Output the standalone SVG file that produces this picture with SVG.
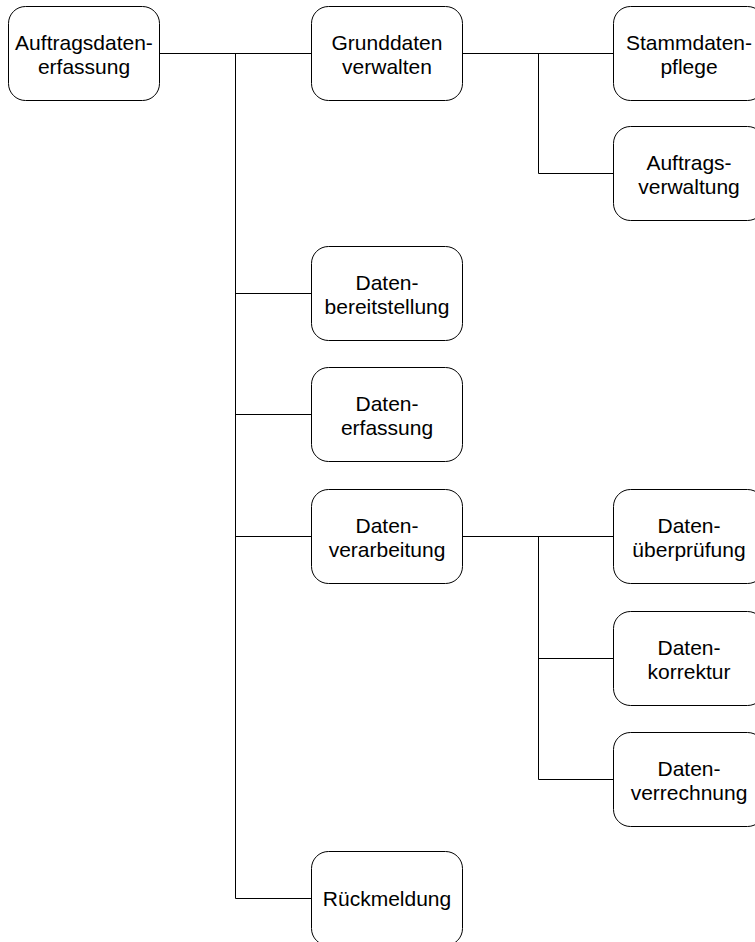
<svg xmlns="http://www.w3.org/2000/svg" width="755" height="942" viewBox="0 0 755 942">
  <style>
    .box { fill: #ffffff; stroke: #000000; stroke-width: 1; }
    .lbl { font-family: "Liberation Sans", Arial, sans-serif; font-size: 21px; fill: #000000; text-anchor: middle; }
    .wire { fill: none; stroke: #000000; stroke-width: 1; }
  </style>
  <rect width="755" height="942" fill="#ffffff"/>

  <!-- connectors -->
  <g id="connectors">
    <path class="wire" d="M160 53.5 H311"/>
    <path class="wire" d="M235.5 53.5 V898.5"/>
    <path class="wire" d="M235.5 293.5 H311"/>
    <path class="wire" d="M235.5 414.5 H311"/>
    <path class="wire" d="M235.5 536.5 H311"/>
    <path class="wire" d="M235.5 898.5 H311"/>
    <path class="wire" d="M463 53.5 H613"/>
    <path class="wire" d="M538.5 53.5 V173.5 H613"/>
    <path class="wire" d="M463 536.5 H613"/>
    <path class="wire" d="M538.5 536.5 V779.5 H613"/>
    <path class="wire" d="M538.5 658.5 H613"/>
  </g>

  <g id="auftragsdatenerfassung">
    <rect class="box" x="8.5" y="6.5" width="151" height="94" rx="17"/>
    <text class="lbl" x="84" y="49.5">Auftragsdaten-</text>
    <text class="lbl" x="84" y="73.5">erfassung</text>
  </g>

  <g id="grunddaten-verwalten">
    <rect class="box" x="311.5" y="6.5" width="151" height="94" rx="17"/>
    <text class="lbl" x="387" y="49.5">Grunddaten</text>
    <text class="lbl" x="387" y="73.5">verwalten</text>
  </g>

  <g id="stammdatenpflege">
    <rect class="box" x="613.5" y="6.5" width="151" height="94" rx="17"/>
    <text class="lbl" x="689" y="49.5">Stammdaten-</text>
    <text class="lbl" x="689" y="73.5">pflege</text>
  </g>

  <g id="auftragsverwaltung">
    <rect class="box" x="613.5" y="126.5" width="151" height="94" rx="17"/>
    <text class="lbl" x="689" y="169.5">Auftrags-</text>
    <text class="lbl" x="689" y="193.5">verwaltung</text>
  </g>

  <g id="datenbereitstellung">
    <rect class="box" x="311.5" y="246.5" width="151" height="94" rx="17"/>
    <text class="lbl" x="387" y="289.5">Daten-</text>
    <text class="lbl" x="387" y="313.5">bereitstellung</text>
  </g>

  <g id="datenerfassung">
    <rect class="box" x="311.5" y="367.5" width="151" height="94" rx="17"/>
    <text class="lbl" x="387" y="410.5">Daten-</text>
    <text class="lbl" x="387" y="434.5">erfassung</text>
  </g>

  <g id="datenverarbeitung">
    <rect class="box" x="311.5" y="489.5" width="151" height="94" rx="17"/>
    <text class="lbl" x="387" y="532.5">Daten-</text>
    <text class="lbl" x="387" y="556.5">verarbeitung</text>
  </g>

  <g id="datenueberpruefung">
    <rect class="box" x="613.5" y="489.5" width="151" height="94" rx="17"/>
    <text class="lbl" x="689" y="532.5">Daten-</text>
    <text class="lbl" x="689" y="556.5">überprüfung</text>
  </g>

  <g id="datenkorrektur">
    <rect class="box" x="613.5" y="611.5" width="151" height="94" rx="17"/>
    <text class="lbl" x="689" y="654.5">Daten-</text>
    <text class="lbl" x="689" y="678.5">korrektur</text>
  </g>

  <g id="datenverrechnung">
    <rect class="box" x="613.5" y="732.5" width="151" height="94" rx="17"/>
    <text class="lbl" x="689" y="775.5">Daten-</text>
    <text class="lbl" x="689" y="799.5">verrechnung</text>
  </g>

  <g id="rueckmeldung">
    <rect class="box" x="311.5" y="851.5" width="151" height="94" rx="17"/>
    <text class="lbl" x="387" y="906">Rückmeldung</text>
  </g>
</svg>
